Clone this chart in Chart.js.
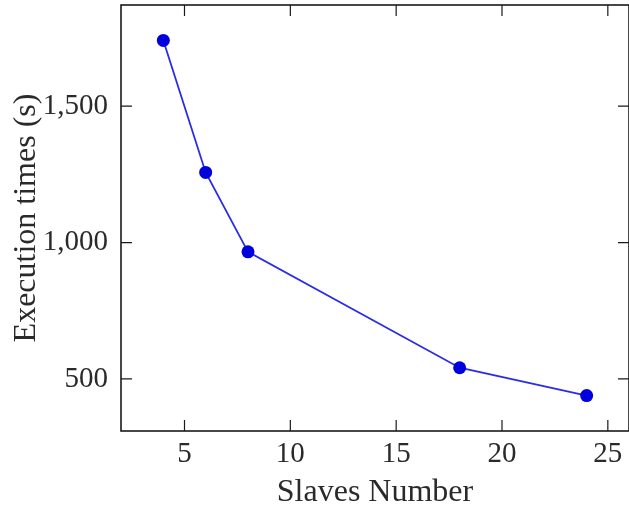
<!DOCTYPE html>
<html>
<head>
<meta charset="utf-8">
<script src="https://cdn.jsdelivr.net/npm/chart.js@4/dist/chart.umd.min.js"></script>
<style>
    html, body { margin: 0; padding: 0; background: #ffffff; }
    #caixa { width: 629px; height: 509px; }
</style>
</head>
<body>
<div id="caixa"><canvas id="grafico" width="629" height="509"></canvas></div>
<script>
let escravos = [4, 6, 8, 18, 24];
let tempos = [1741, 1257, 966, 541, 439];
let ticksX = [5, 10, 15, 20, 25];
let ticksY = [500, 1000, 1500];

let fonte = "'Liberation Serif', 'Times New Roman', serif";
let corTexto = "#2a2a2a";

let pontos = [];
for (let i = 0; i < escravos.length; i++) {
    pontos.push({ x: escravos[i], y: tempos[i] });
}

// moldura e marcas para dentro, como no pgfplots
let moldura = {
    id: "moldura",
    afterDraw: function (chart) {
        let ctx = chart.ctx;
        let area = chart.chartArea;
        let tam = 11;
        ctx.save();
        ctx.strokeStyle = "#1a1a1a";
        ctx.lineWidth = 1.2;
        ctx.beginPath();
        for (let i = 0; i < ticksX.length; i++) {
            let px = chart.scales.x.getPixelForValue(ticksX[i]);
            ctx.moveTo(px, area.bottom);
            ctx.lineTo(px, area.bottom - tam);
            ctx.moveTo(px, area.top);
            ctx.lineTo(px, area.top + tam);
        }
        for (let i = 0; i < ticksY.length; i++) {
            let py = chart.scales.y.getPixelForValue(ticksY[i]);
            ctx.moveTo(area.left, py);
            ctx.lineTo(area.left + tam, py);
            ctx.moveTo(area.right, py);
            ctx.lineTo(area.right - tam, py);
        }
        ctx.stroke();
        ctx.lineWidth = 1.6;
        ctx.strokeRect(area.left, area.top, area.right - area.left, area.bottom - area.top);
        ctx.restore();
    }
};

new Chart(document.getElementById("grafico"), {
    type: "line",
    data: {
        datasets: [
            {
                data: pontos,
                borderColor: "#2b2be8",
                borderWidth: 1.8,
                backgroundColor: "#0000dd",
                pointBackgroundColor: "#0000dd",
                pointBorderColor: "#0000dd",
                pointRadius: 6.5,
                pointBorderWidth: 0,
                tension: 0
            }
        ]
    },
    options: {
        responsive: false,
        animation: false,
        layout: {
            autoPadding: false,
            padding: { top: 5, right: 0, left: 0, bottom: 0 }
        },
        plugins: {
            legend: { display: false },
            tooltip: { enabled: false }
        },
        scales: {
            x: {
                type: "linear",
                min: 2,
                max: 26,
                afterBuildTicks: function (scale) {
                    scale.ticks = ticksX.map(function (v) { return { value: v }; });
                },
                afterFit: function (scale) {
                    scale.height = 78;
                    scale.paddingLeft = 0;
                    scale.paddingRight = 0;
                },
                grid: { display: false, drawTicks: false },
                border: { display: false },
                ticks: {
                    color: corTexto,
                    padding: 6,
                    maxRotation: 0,
                    font: { family: fonte, size: 29 }
                },
                title: {
                    display: true,
                    text: "Slaves Number",
                    color: corTexto,
                    padding: { top: 0, bottom: 0 },
                    font: { family: fonte, size: 32, lineHeight: 1 }
                }
            },
            y: {
                min: 309,
                max: 1871,
                afterBuildTicks: function (scale) {
                    scale.ticks = ticksY.map(function (v) { return { value: v }; });
                },
                afterFit: function (scale) {
                    scale.width = 121;
                    scale.paddingTop = 0;
                    scale.paddingBottom = 0;
                },
                grid: { display: false, drawTicks: false },
                border: { display: false },
                ticks: {
                    color: corTexto,
                    padding: 13,
                    font: { family: fonte, size: 29 }
                },
                title: {
                    display: true,
                    text: "Execution times (s)",
                    color: corTexto,
                    padding: { top: 11, bottom: 0 },
                    font: { family: fonte, size: 32, lineHeight: 1 }
                }
            }
        }
    },
    plugins: [moldura]
});
</script>
</body>
</html>
